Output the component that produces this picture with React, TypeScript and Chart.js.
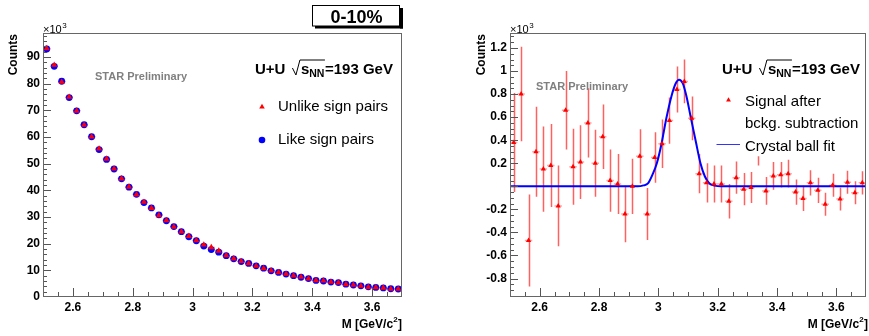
import React, { useEffect, useRef } from 'react';
import { Chart, registerables } from 'chart.js';

Chart.register(...registerables);

const FONT = '"Liberation Sans", Arial, Helvetica, sans-serif';

// ---------- data ----------
const massBins = [
  2.5125, 2.5375, 2.5625, 2.5875, 2.6125, 2.6375, 2.6625, 2.6875,
  2.7125, 2.7375, 2.7625, 2.7875, 2.8125, 2.8375, 2.8625, 2.8875,
  2.9125, 2.9375, 2.9625, 2.9875, 3.0125, 3.0375, 3.0625, 3.0875,
  3.1125, 3.1375, 3.1625, 3.1875, 3.2125, 3.2375, 3.2625, 3.2875,
  3.3125, 3.3375, 3.3625, 3.3875, 3.4125, 3.4375, 3.4625, 3.4875,
  3.5125, 3.5375, 3.5625, 3.5875, 3.6125, 3.6375, 3.6625, 3.6875,
];
const binHalfWidth = 0.0125;

// counts (x10^3)
const unlikeSign = [
  93.2, 87.0, 80.6, 75.0, 69.8, 64.5, 60.1, 55.6,
  51.8, 48.1, 44.4, 41.3, 38.4, 35.6, 33.3, 30.6,
  28.7, 26.3, 24.5, 22.8, 21.2, 19.6, 18.6, 17.3,
  15.6, 14.4, 13.4, 12.6, 11.6, 10.7, 9.9, 9.2,
  8.6, 8.0, 7.5, 6.9, 6.2, 6.1, 5.6, 5.4,
  4.7, 4.5, 4.1, 3.7, 3.6, 3.4, 3.0, 3.0,
];
const likeSign = [
  93.0, 86.5, 80.9, 74.8, 69.8, 64.6, 60.1, 55.3,
  51.6, 48.0, 44.3, 41.2, 38.5, 35.4, 33.4, 30.8,
  28.6, 26.4, 24.5, 22.6, 21.1, 19.1, 17.8, 16.8,
  15.5, 14.3, 13.3, 12.6, 11.7, 10.8, 9.8, 9.2,
  8.6, 8.0, 7.4, 6.9, 6.2, 6.0, 5.6, 5.4,
  4.8, 4.5, 4.2, 3.8, 3.6, 3.4, 3.1, 3.0,
];

// signal after background subtraction (x10^3)
const signal = [
  0.38, 0.80, -0.47, 0.30, 0.15, 0.18, -0.17, 0.66,
  0.17, 0.21, 0.55, 0.20, 0.43, 0.05, 0.02, -0.24,
  0.00, 0.26, -0.24, 0.25, 0.37, 0.57, 0.84, 0.91,
  0.59, 0.11, 0.03, 0.02, 0.02, -0.13, 0.075, -0.025,
  -0.01, 0.22, -0.04, 0.09, 0.10, 0.11, -0.05, -0.105,
  0.03, -0.035, -0.155, 0.01, -0.11, 0.035, -0.055, 0.03,
];
const signalErr = [
  0.43, 0.41, 0.40, 0.39, 0.37, 0.36, 0.35, 0.34,
  0.33, 0.32, 0.30, 0.29, 0.28, 0.27, 0.26, 0.245,
  0.24, 0.235, 0.225, 0.22, 0.21, 0.20, 0.20, 0.19,
  0.19, 0.17, 0.17, 0.16, 0.16, 0.15, 0.14, 0.14,
  0.135, 0.04, 0.12, 0.12, 0.11, 0.12, 0.11, 0.11,
  0.11, 0.11, 0.10, 0.10, 0.10, 0.10, 0.10, 0.10,
];
const hiddenMarkerBins = [33];

// Crystal ball fit curve
const fitMass = [2.5, 2.93, 2.95, 2.965, 2.98, 2.995, 3.01, 3.027, 3.044, 3.058, 3.07, 3.082, 3.094, 3.11, 3.127, 3.142, 3.157, 3.172, 3.19, 3.21, 3.7];
const fitValue = [0, 0, 0.008, 0.025, 0.1, 0.2, 0.36, 0.59, 0.78, 0.89, 0.925, 0.895, 0.79, 0.59, 0.38, 0.2, 0.085, 0.025, 0.006, 0, 0];

// ticks
const massTicks = [2.6, 2.8, 3.0, 3.2, 3.4, 3.6];
const massTickLabels = ['2.6', '2.8', '3', '3.2', '3.4', '3.6'];
const countsTicks = [0, 10, 20, 30, 40, 50, 60, 70, 80, 90];
const countsTickLabels = ['0', '10', '20', '30', '40', '50', '60', '70', '80', '90'];
const signalTicks = [-0.8, -0.6, -0.4, -0.2, 0.2, 0.4, 0.6, 0.8, 1.0, 1.2];
const signalTickLabels = ['-0.8', '-0.6', '-0.4', '-0.2', '0.2', '0.4', '0.6', '0.8', '1', '1.2'];

// ---------- helpers ----------
function drawTriangle(ctx: CanvasRenderingContext2D, cx: number, cy: number, r: number, color: string) {
  ctx.beginPath();
  ctx.moveTo(cx, cy - r);
  ctx.lineTo(cx + r * 0.866, cy + r / 2);
  ctx.lineTo(cx - r * 0.866, cy + r / 2);
  ctx.closePath();
  ctx.fillStyle = color;
  ctx.fill();
}

function drawFrameAndTicks(chart: any, yMajor: number[], xStep: number, yStep: number) {
  const ctx: CanvasRenderingContext2D = chart.ctx;
  const a = chart.chartArea;
  const xs = chart.scales.x;
  const ys = chart.scales.y;
  ctx.save();
  ctx.strokeStyle = '#555';
  ctx.lineWidth = 1;
  ctx.beginPath();
  for (let k = Math.ceil(xs.min / xStep - 1e-6); k * xStep <= xs.max + 1e-9; k++) {
    const v = k * xStep;
    if (v <= xs.min + 1e-6 || v >= xs.max - 1e-6) continue;
    const major = massTicks.some((m) => Math.abs(m - v) < 1e-6);
    const px = Math.round(xs.getPixelForValue(v)) + 0.5;
    ctx.moveTo(px, a.bottom);
    ctx.lineTo(px, a.bottom - (major ? 9 : 5));
  }
  for (let k = Math.ceil(ys.min / yStep - 1e-6); k * yStep <= ys.max + 1e-9; k++) {
    const v = k * yStep;
    if (v <= ys.min + 1e-6 || v >= ys.max - 1e-6) continue;
    const major = yMajor.some((m) => Math.abs(m - v) < 1e-6);
    const py = Math.round(ys.getPixelForValue(v)) + 0.5;
    ctx.moveTo(a.left, py);
    ctx.lineTo(a.left + (major ? 8 : 4), py);
  }
  ctx.stroke();
  ctx.strokeStyle = '#666';
  ctx.strokeRect(Math.round(a.left) + 0.5, Math.round(a.top) + 0.5, Math.round(a.right - a.left) - 1, Math.round(a.bottom - a.top) - 1);
  ctx.restore();
}

function drawYTitle(ctx: CanvasRenderingContext2D, x: number) {
  ctx.save();
  ctx.translate(x, 34);
  ctx.rotate(-Math.PI / 2);
  ctx.font = `bold 12px ${FONT}`;
  ctx.fillStyle = '#000';
  ctx.textAlign = 'right';
  ctx.textBaseline = 'middle';
  ctx.fillText('Counts', 0, 0);
  ctx.restore();
}

function drawTimes10(ctx: CanvasRenderingContext2D, x: number) {
  ctx.save();
  ctx.fillStyle = '#000';
  ctx.textAlign = 'left';
  ctx.textBaseline = 'alphabetic';
  ctx.font = `11px ${FONT}`;
  ctx.fillText('\u00d710', x, 33);
  const w = ctx.measureText('\u00d710').width;
  ctx.font = `8px ${FONT}`;
  ctx.fillText('3', x + w + 0.5, 28);
  ctx.restore();
}

function drawXTitle(ctx: CanvasRenderingContext2D, right: number) {
  ctx.save();
  ctx.fillStyle = '#000';
  ctx.textAlign = 'left';
  ctx.textBaseline = 'alphabetic';
  ctx.font = `bold 12px ${FONT}`;
  const w1 = ctx.measureText('M [GeV/c').width;
  const w3 = ctx.measureText(']').width;
  ctx.font = `bold 8px ${FONT}`;
  const w2 = ctx.measureText('2').width;
  const x0 = right - w1 - w2 - w3 - 0.5;
  ctx.font = `bold 12px ${FONT}`;
  ctx.fillText('M [GeV/c', x0, 328);
  ctx.fillText(']', x0 + w1 + w2 + 0.5, 328);
  ctx.font = `bold 8px ${FONT}`;
  ctx.fillText('2', x0 + w1 + 0.3, 322);
  ctx.restore();
}

function drawStar(ctx: CanvasRenderingContext2D, x: number, y: number) {
  ctx.save();
  ctx.font = `bold 11px ${FONT}`;
  ctx.fillStyle = '#808080';
  ctx.textAlign = 'left';
  ctx.textBaseline = 'middle';
  ctx.fillText('STAR Preliminary', x, y);
  ctx.restore();
}

function drawEnergy(ctx: CanvasRenderingContext2D, x: number, base: number) {
  ctx.save();
  ctx.fillStyle = '#000';
  ctx.strokeStyle = '#000';
  ctx.textAlign = 'left';
  ctx.textBaseline = 'alphabetic';
  ctx.font = `bold 15px ${FONT}`;
  ctx.fillText('U+U', x, base);
  const cx = x + ctx.measureText('U+U').width + 7;
  const sx = cx + 8.5;
  ctx.fillText('s', sx, base);
  const sw = ctx.measureText('s').width;
  ctx.font = `bold 10.5px ${FONT}`;
  ctx.fillText('NN', sx + sw, base + 3);
  const nw = ctx.measureText('NN').width;
  const endX = sx + sw + nw + 0.5;
  ctx.lineWidth = 1;
  ctx.beginPath();
  ctx.moveTo(cx, base - 6);
  ctx.lineTo(cx + 3.5, base + 1);
  ctx.lineTo(cx + 7.5, base - 14);
  ctx.lineTo(endX, base - 14);
  ctx.stroke();
  ctx.font = `bold 15px ${FONT}`;
  ctx.fillText('=193 GeV', endX, base);
  ctx.restore();
}

function drawLegendText(ctx: CanvasRenderingContext2D, text: string, x: number, base: number) {
  ctx.save();
  ctx.font = `15px ${FONT}`;
  ctx.fillStyle = '#000';
  ctx.textAlign = 'left';
  ctx.textBaseline = 'alphabetic';
  ctx.fillText(text, x, base);
  ctx.restore();
}

function makeErrorPlugin(specs: any[]) {
  return {
    id: 'errorBars',
    beforeDatasetsDraw(chart: any) {
      const ctx: CanvasRenderingContext2D = chart.ctx;
      const xs = chart.scales.x;
      const ys = chart.scales.y;
      const a = chart.chartArea;
      ctx.save();
      ctx.beginPath();
      ctx.rect(a.left, a.top, a.right - a.left, a.bottom - a.top);
      ctx.clip();
      specs.forEach((s) => {
        const hidden: number[] = s.hidden || [];
        ctx.lineWidth = 1.5;
        ctx.strokeStyle = s.hColor;
        ctx.beginPath();
        s.x.forEach((xv: number, i: number) => {
          if (hidden.includes(i)) return;
          const py = ys.getPixelForValue(s.y[i]);
          ctx.moveTo(xs.getPixelForValue(xv - binHalfWidth), py);
          ctx.lineTo(xs.getPixelForValue(xv + binHalfWidth), py);
        });
        ctx.stroke();
        if (s.err) {
          ctx.strokeStyle = s.vColor;
          ctx.beginPath();
          s.x.forEach((xv: number, i: number) => {
            const px = Math.round(xs.getPixelForValue(xv)) + 0.5;
            ctx.moveTo(px, ys.getPixelForValue(s.y[i] - s.err[i]));
            ctx.lineTo(px, ys.getPixelForValue(s.y[i] + s.err[i]));
          });
          ctx.stroke();
        }
      });
      ctx.restore();
    },
  };
}

function baseScales(yMin: number, yMax: number, yTicks: number[], yLabels: string[], yWidth: number) {
  return {
    x: {
      type: 'linear',
      min: 2.5,
      max: 3.7,
      afterBuildTicks: (s: any) => { s.ticks = massTicks.map((v) => ({ value: v })); },
      afterFit: (s: any) => { s.height = 39; },
      grid: { display: false, drawTicks: false },
      border: { display: false },
      ticks: {
        autoSkip: false,
        maxRotation: 0,
        minRotation: 0,
        padding: 3,
        color: '#000',
        font: { family: FONT, size: 12, weight: 'bold' },
        callback: (_v: any, i: number) => massTickLabels[i],
      },
    },
    y: {
      type: 'linear',
      min: yMin,
      max: yMax,
      afterBuildTicks: (s: any) => { s.ticks = yTicks.map((v) => ({ value: v })); },
      afterFit: (s: any) => { s.width = yWidth; },
      grid: { display: false, drawTicks: false },
      border: { display: false },
      ticks: {
        autoSkip: false,
        padding: 3,
        color: '#000',
        font: { family: FONT, size: 12, weight: 'bold' },
        callback: (_v: any, i: number) => yLabels[i],
      },
    },
  };
}

function leftConfig(): any {
  const decor = {
    id: 'decorLeft',
    afterDraw(chart: any) {
      const ctx: CanvasRenderingContext2D = chart.ctx;
      drawFrameAndTicks(chart, countsTicks, 0.05, 2);
      drawYTitle(ctx, 14);
      drawTimes10(ctx, 43);
      drawStar(ctx, 95, 77);
      drawEnergy(ctx, 255, 74);
      drawTriangle(ctx, 262, 107, 3.2, '#ff0000');
      drawLegendText(ctx, 'Unlike sign pairs', 278, 111);
      ctx.beginPath();
      ctx.arc(262, 140, 3.3, 0, Math.PI * 2);
      ctx.fillStyle = '#0000ff';
      ctx.fill();
      drawLegendText(ctx, 'Like sign pairs', 278, 144);
      drawXTitle(ctx, 402);
      // centrality box
      ctx.save();
      ctx.fillStyle = '#fff';
      ctx.fillRect(312.5, 5.5, 87, 20.5);
      ctx.strokeStyle = '#000';
      ctx.lineWidth = 1;
      ctx.strokeRect(312.5, 5.5, 87, 20.5);
      ctx.fillStyle = '#000';
      ctx.fillRect(315, 26, 88, 2.5);
      ctx.fillRect(400, 8, 3, 20.5);
      ctx.font = `bold 18px ${FONT}`;
      ctx.textAlign = 'center';
      ctx.textBaseline = 'alphabetic';
      ctx.fillText('0-10%', 356.5, 23);
      ctx.restore();
    },
  };
  return {
    type: 'scatter',
    data: {
      datasets: [
        {
          label: 'Unlike sign pairs',
          data: massBins.map((m, i) => ({ x: m, y: unlikeSign[i] })),
          pointStyle: 'triangle',
          pointRadius: 3.6,
          pointHoverRadius: 3.6,
          backgroundColor: '#ff0000',
          borderColor: '#ff0000',
          borderWidth: 0,
        },
        {
          label: 'Like sign pairs',
          data: massBins.map((m, i) => ({ x: m, y: likeSign[i] })),
          pointStyle: 'circle',
          pointRadius: 3.4,
          pointHoverRadius: 3.4,
          backgroundColor: '#0000ff',
          borderColor: '#0000ff',
          borderWidth: 0,
        },
      ],
    },
    options: {
      animation: false,
      responsive: false,
      devicePixelRatio: 1,
      layout: { padding: { top: 33, right: 32, left: 0, bottom: 0 } },
      plugins: { legend: { display: false }, tooltip: { enabled: false } },
      scales: baseScales(0, 99, countsTicks, countsTickLabels, 43),
    },
    plugins: [
      makeErrorPlugin([
        { x: massBins, y: likeSign, err: null, hColor: 'rgba(0,0,255,0.35)', vColor: '' },
        { x: massBins, y: unlikeSign, err: null, hColor: 'rgba(255,0,0,0.35)', vColor: '' },
      ]),
      decor,
    ],
  };
}

function rightConfig(): any {
  const off = 434;
  const decor = {
    id: 'decorRight',
    afterDraw(chart: any) {
      const ctx: CanvasRenderingContext2D = chart.ctx;
      drawFrameAndTicks(chart, [...signalTicks, 0], 0.05, 0.05);
      drawYTitle(ctx, 482 - off);
      drawTimes10(ctx, 510 - off);
      drawStar(ctx, 536 - off, 87);
      drawEnergy(ctx, 722 - off, 74);
      drawTriangle(ctx, 728.5 - off, 100, 2.8, '#ff0000');
      drawLegendText(ctx, 'Signal after', 745 - off, 106);
      drawLegendText(ctx, 'bckg. subtraction', 745 - off, 128);
      ctx.save();
      ctx.strokeStyle = '#3333ff';
      ctx.lineWidth = 1;
      ctx.beginPath();
      ctx.moveTo(716.5 - off, 144.5);
      ctx.lineTo(740 - off, 144.5);
      ctx.stroke();
      ctx.restore();
      drawLegendText(ctx, 'Crystal ball fit', 745 - off, 150.5);
      drawXTitle(ctx, 868 - off);
    },
  };
  return {
    type: 'scatter',
    data: {
      datasets: [
        {
          label: 'Signal after bckg. subtraction',
          data: massBins.map((m, i) => ({ x: m, y: signal[i] })),
          pointStyle: 'triangle',
          pointRadius: (c: any) => (hiddenMarkerBins.includes(c.dataIndex) ? 0 : 3),
          pointHoverRadius: 3,
          backgroundColor: '#ff0000',
          borderColor: '#ff0000',
          borderWidth: 0,
        },
        {
          type: 'line',
          label: 'Crystal ball fit',
          data: fitMass.map((m, i) => ({ x: m, y: fitValue[i] })),
          showLine: true,
          borderColor: '#0000ff',
          borderWidth: 2,
          pointRadius: 0,
          pointHoverRadius: 0,
          fill: false,
          cubicInterpolationMode: 'monotone',
        },
      ],
    },
    options: {
      animation: false,
      responsive: false,
      devicePixelRatio: 1,
      layout: { padding: { top: 33, right: 1, left: 0, bottom: 0 } },
      plugins: { legend: { display: false }, tooltip: { enabled: false } },
      scales: baseScales(-0.96, 1.33, signalTicks, signalTickLabels, 76),
    },
    plugins: [
      makeErrorPlugin([
        { x: massBins, y: signal, err: signalErr, hidden: hiddenMarkerBins, hColor: 'rgba(255,90,90,0.55)', vColor: 'rgba(255,30,30,0.7)' },
      ]),
      decor,
    ],
  };
}

export default function App() {
  const leftRef = useRef<HTMLCanvasElement>(null);
  const rightRef = useRef<HTMLCanvasElement>(null);
  useEffect(() => {
    document.body.style.margin = '0';
    const c1 = new Chart(leftRef.current as HTMLCanvasElement, leftConfig());
    const c2 = new Chart(rightRef.current as HTMLCanvasElement, rightConfig());
    return () => {
      c1.destroy();
      c2.destroy();
    };
  }, []);
  return (
    <div style={{ position: 'relative', width: 869, height: 336, background: '#fff', overflow: 'hidden' }}>
      <canvas ref={leftRef} width={434} height={336} style={{ position: 'absolute', left: 0, top: 0, width: 434, height: 336 }} />
      <canvas ref={rightRef} width={435} height={336} style={{ position: 'absolute', left: 434, top: 0, width: 435, height: 336 }} />
    </div>
  );
}
